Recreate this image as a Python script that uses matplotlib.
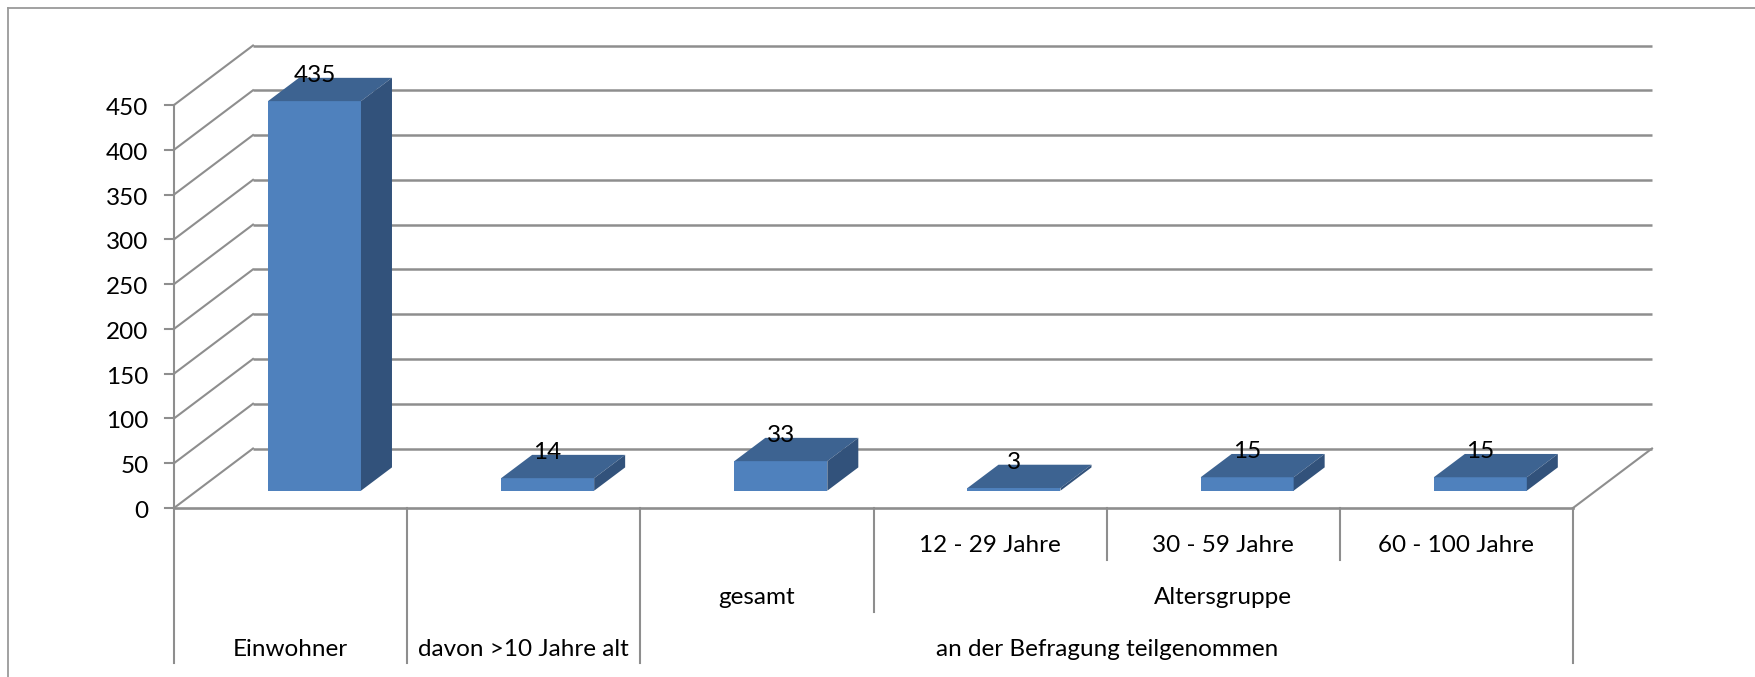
#!/usr/bin/env python3
"""Oblique pseudo-3D column chart: Einwohner / Befragung teilgenommen."""

import matplotlib
matplotlib.use("Agg")
import matplotlib.pyplot as plt
from matplotlib.lines import Line2D
from matplotlib.patches import Polygon
import numpy as np

# ---------------------------------------------------------------------------
# Data
# ---------------------------------------------------------------------------
values = [435, 14, 33, 3, 15, 15]
y_ticks = [0, 50, 100, 150, 200, 250, 300, 350, 400, 450]

# multi level category labels: (text, first category, last category)
level1_labels = ["12 - 29 Jahre", "30 - 59 Jahre", "60 - 100 Jahre"]
level1_spans = [(3, 3), (4, 4), (5, 5)]
level2_labels = ["gesamt", "Altersgruppe"]
level2_spans = [(2, 2), (3, 5)]
level3_labels = ["Einwohner", "davon >10 Jahre alt", "an der Befragung teilgenommen"]
level3_spans = [(0, 0), (1, 1), (2, 5)]

# ---------------------------------------------------------------------------
# Layout (pixels of the 1755x677 picture)
# ---------------------------------------------------------------------------
W, H = 1755, 677
X0, X1 = 174, 1573      # front plane, left and right
Y0, Y450 = 508, 105     # front plane, value 0 and value 450
GRID = "#8e8e8e"
FRONT = "#4F81BD"
TOP = "#3D6391"
SIDE = "#32527B"
FS = 17.5

plt.rcParams["font.family"] = ["Lato", "DejaVu Sans"]

fig = plt.figure(figsize=(W / 100, H / 100), dpi=100)
ax = fig.add_axes([X0 / W, 1 - Y0 / H, (X1 - X0) / W, (Y0 - Y450) / H])
ax.set_xlim(0, len(values))
ax.set_ylim(0, 450)

# pixels -> data units
ux = (X1 - X0) / len(values)
uy = (Y0 - Y450) / 450


def dx(px):
    return px / ux


def dy(px):
    return px / uy


WALL_X, WALL_Y = dx(79), dy(59.5)   # depth of the floor
BAR_X, BAR_Y = dx(31), dy(23.3)     # depth of a column
BAR_W = dx(93)
SHIFT_X, BASE = dx(23.9), dy(17.3)  # where columns stand on the floor

ax.axis("off")

# walls and floor
for t in y_ticks:
    ax.plot([WALL_X, len(values) + WALL_X], [t + WALL_Y, t + WALL_Y],
            color=GRID, lw=1.8, clip_on=False, zorder=1, solid_capstyle="butt")
    ax.plot([0, WALL_X], [t, t + WALL_Y], color=GRID, lw=1.5, clip_on=False, zorder=1)
    ax.plot([-dx(9), 0], [t, t], color=GRID, lw=1.5, clip_on=False, zorder=1)
    ax.text(-dx(25.5), t - dy(3.5), str(t), ha="right", va="center", fontsize=FS, color="black")

ax.plot([0, len(values)], [0, 0], color=GRID, lw=1.9, clip_on=False, zorder=1)
ax.plot([len(values), len(values) + WALL_X], [0, WALL_Y], color=GRID, lw=1.5,
        clip_on=False, zorder=1)

# y axis and the long outer dividers below the plot
ax.plot([0, 0], [450, -dy(155)], color=GRID, lw=1.5, clip_on=False, zorder=1)


def divider(x, px_down):
    ax.plot([x, x], [0, -dy(px_down)], color=GRID, lw=1.5, clip_on=False, zorder=1)


for x in [1, 2, 6]:
    divider(x, 155)
divider(3, 104)
for x in [4, 5]:
    divider(x, 52)

# columns
xs = np.arange(len(values)) + 0.5 + SHIFT_X
ax.bar(xs, values, width=BAR_W, bottom=BASE, color=FRONT, clip_on=False, zorder=3)
for x, v in zip(xs, values):
    left, right = x - BAR_W / 2, x + BAR_W / 2
    top = BASE + v
    ax.add_patch(Polygon([(left, top), (right, top), (right + BAR_X, top + BAR_Y),
                          (left + BAR_X, top + BAR_Y)], closed=True, facecolor=TOP,
                         edgecolor="none", clip_on=False, zorder=3))
    ax.add_patch(Polygon([(right, BASE), (right + BAR_X, BASE + BAR_Y),
                          (right + BAR_X, top + BAR_Y), (right, top)], closed=True,
                         facecolor=SIDE, edgecolor="none", clip_on=False, zorder=3))
    ax.text(x, top + BAR_Y + dy(2.5), str(v), ha="center", va="center",
            fontsize=FS, color="black", zorder=5)

# category labels
for labels, spans, px_down in [(level1_labels, level1_spans, 37),
                               (level2_labels, level2_spans, 89),
                               (level3_labels, level3_spans, 141)]:
    for label, (a, b) in zip(labels, spans):
        ax.text((a + b + 1) / 2, -dy(px_down), label, ha="center", va="center",
                fontsize=FS, color="black")

# chart area border, only top and left are in the picture
fig.add_artist(Line2D([7.5 / W, 7.5 / W], [0, 1 - 7.5 / H], color="#9a9a9a", lw=1.3))
fig.add_artist(Line2D([7.5 / W, 1], [1 - 7.5 / H, 1 - 7.5 / H], color="#9a9a9a", lw=1.3))

fig.savefig("out.png", dpi=100, facecolor="white")
